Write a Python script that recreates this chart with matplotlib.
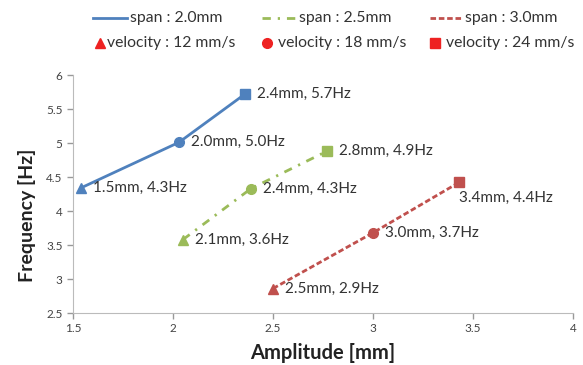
import matplotlib
matplotlib.use("Agg")
import matplotlib.pyplot as plt
from matplotlib.lines import Line2D

plt.rcParams['font.family'] = ['Lato', 'DejaVu Sans']

# data: amplitude [mm] and frequency [Hz] for velocity 12, 18, 24 mm/s
amp_20 = [1.54, 2.03, 2.36]
freq_20 = [4.34, 5.01, 5.72]
amp_25 = [2.05, 2.39, 2.77]
freq_25 = [3.58, 4.33, 4.88]
amp_30 = [2.50, 3.00, 3.43]
freq_30 = [2.86, 3.68, 4.42]

labels_20 = ["1.5mm, 4.3Hz", "2.0mm, 5.0Hz", "2.4mm, 5.7Hz"]
labels_25 = ["2.1mm, 3.6Hz", "2.4mm, 4.3Hz", "2.8mm, 4.9Hz"]
labels_30 = ["2.5mm, 2.9Hz", "3.0mm, 3.7Hz", "3.4mm, 4.4Hz"]

span_names = ["span : 2.0mm", "span : 2.5mm", "span : 3.0mm"]
vel_names = ["velocity : 12 mm/s", "velocity : 18 mm/s", "velocity : 24 mm/s"]

markers = ["^", "o", "s"]
blue, green, red = "#4F81BD", "#9BBB59", "#C0504D"
dashdot = (0, (3, 2.5, 0.8, 2.5))
dashed = (0, (2, 1))

W, H = 583, 365
fig = plt.figure(figsize=(W / 100, H / 100), dpi=100)
ax = fig.add_axes([73 / W, 1 - 313 / H, 500 / W, 238 / H])

series = [
    (amp_20, freq_20, labels_20, blue, "-"),
    (amp_25, freq_25, labels_25, green, dashdot),
    (amp_30, freq_30, labels_30, red, dashed),
]
for xs, ys, labs, col, ls in series:
    ax.plot(xs, ys, color=col, linestyle=ls, lw=2, zorder=2)
    for x, y, m, lab in zip(xs, ys, markers, labs):
        ax.plot(x, y, marker=m, color=col, ms=7, zorder=3)
        if lab == "3.4mm, 4.4Hz":
            ax.annotate(lab, (x, y), xytext=(0, -11), textcoords="offset points",
                        fontsize=11, va="center", ha="left", color="#333333")
        else:
            ax.annotate(lab, (x, y), xytext=(9, 0), textcoords="offset points",
                        fontsize=11, va="center", ha="left", color="#333333")

ax.set_xlim(1.5, 4)
ax.set_ylim(2.5, 6)
ax.set_xticks([1.5, 2, 2.5, 3, 3.5, 4])
ax.set_xticklabels(["1.5", "2", "2.5", "3", "3.5", "4"])
ax.set_yticks([2.5, 3, 3.5, 4, 4.5, 5, 5.5, 6])
ax.set_yticklabels(["2.5", "3", "3.5", "4", "4.5", "5", "5.5", "6"])
ax.tick_params(labelsize=8.5, colors="#999999", labelcolor="#444444", length=4, width=1)
for s in ["top", "right"]:
    ax.spines[s].set_visible(False)
for s in ["left", "bottom"]:
    ax.spines[s].set_color("#BBBBBB")

ax.set_xlabel("Amplitude [mm]", fontsize=14.5, fontweight="bold", color="#222222")
ax.xaxis.set_label_coords(0.5, -(343 - 313) / 238)
ax.set_ylabel("Frequency [Hz]", fontsize=14, fontweight="bold", color="#222222")
ax.yaxis.set_label_coords(-(73 - 36) / 500, (313 - 215) / 238)

# legend, two rows laid out like the original
line_styles = ["-", dashdot, dashed]
line_cols = [blue, green, red]
row1_line = [(93, 127), (262, 297), (430, 463)]
row1_text = [130, 299, 465]
for (x0, x1), tx, ls, col, name in zip(row1_line, row1_text, line_styles, line_cols, span_names):
    fig.add_artist(Line2D([x0 / W, x1 / W], [1 - 18 / H, 1 - 18 / H], color=col, lw=2, ls=ls,
                          transform=fig.transFigure))
    fig.text(tx / W, 1 - 18 / H, name, fontsize=11.3, va="center", ha="left", color="#333333")

row2_mark = [100, 267, 435]
row2_text = [107, 278, 446]
for mx, tx, m, name in zip(row2_mark, row2_text, markers, vel_names):
    fig.add_artist(Line2D([mx / W], [1 - 43 / H], color="#EE2222", marker=m, ms=7, ls="none",
                          transform=fig.transFigure))
    fig.text(tx / W, 1 - 43 / H, name, fontsize=11.3, va="center", ha="left", color="#333333")

fig.savefig("out.png", dpi=100)
